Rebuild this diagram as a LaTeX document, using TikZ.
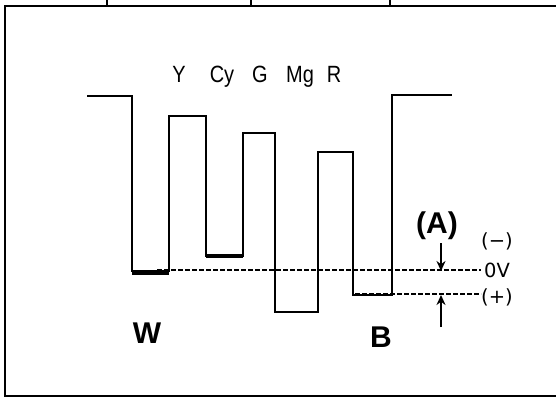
\documentclass[tikz,border=0pt]{standalone}
\usepackage{fontspec}
\setmainfont{Liberation Sans}
\newfontfamily\djv{DejaVu Sans}
\usetikzlibrary{arrows.meta}
\begin{document}
\begin{tikzpicture}[x=1pt,y=-1pt,
  frameline/.style={line width=2.6pt},
  wave/.style={line width=2.8pt,line join=miter},
  zeroline/.style={line width=1.8pt,dash pattern=on 5pt off 2pt},
  colorlbl/.style={font=\fontsize{23.5}{23.5}\selectfont,anchor=base,inner sep=0pt},
  biglbl/.style={font=\fontsize{30}{30}\selectfont\bfseries,inner sep=0pt},
  sidelbl/.style={font=\djv\fontsize{19.5}{19.5}\selectfont,inner sep=0pt},
  marker/.style={line width=2.2pt,-{Stealth[length=10pt,width=9pt]}}]
\useasboundingbox (0,0) rectangle (556,398);
\fill[white] (0,0) rectangle (556,398);
% frame
\draw[frameline] (560,6) -- (5,6) -- (5,396) -- (560,396);
\foreach \tx in {107,251,390} \draw[frameline] (\tx,-2) -- (\tx,6);
% waveform
\draw[wave] (87,96) -- (132,96) -- (132,271) -- (169,271) -- (169,116) -- (206,116)
  -- (206,256) -- (243,256) -- (243,133) -- (275,133) -- (275,312) -- (318,312)
  -- (318,152) -- (353,152) -- (353,295) -- (392,295) -- (392,95) -- (452,95);
\draw[line width=5pt] (132,272) -- (169,272);
\draw[line width=4pt] (206,256) -- (243,256);
% reference lines
\coordinate (z0) at (157,270);
\coordinate (z1) at (481,270);
\coordinate (p0) at (355,294);
\coordinate (p1) at (481,294);
\draw[zeroline] (z0) -- (z1);
\draw[zeroline] (p0) -- (p1);
% arrows
\coordinate (a0) at (441,243);
\coordinate (a1) at (441,271);
\coordinate (b0) at (441,327);
\coordinate (b1) at (441,295);
\draw[marker] (a0) -- (a1);
\draw[marker] (b0) -- (b1);
% labels
\node[colorlbl] (ly) at (179,83) {\scalebox{0.85}[1]{Y}};
\node[colorlbl] (lcy) at (222,83) {\scalebox{0.85}[1]{Cy}};
\node[colorlbl] (lg) at (260,83) {\scalebox{0.85}[1]{G}};
\node[colorlbl] (lmg) at (300,83) {\scalebox{0.85}[1]{Mg}};
\node[colorlbl] (lr) at (334,83) {\scalebox{0.85}[1]{R}};
\node[biglbl] (lw) at (147,333) {W};
\node[biglbl] (lb) at (381,337) {B};
\node[biglbl] (la) at (437,226) {(A)};
\node[sidelbl] (lm) at (497,241) {(−)};
\node[sidelbl] (l0) at (497,270) {0V};
\node[sidelbl] (lp) at (497,297) {(+)};
\end{tikzpicture}
\end{document}
